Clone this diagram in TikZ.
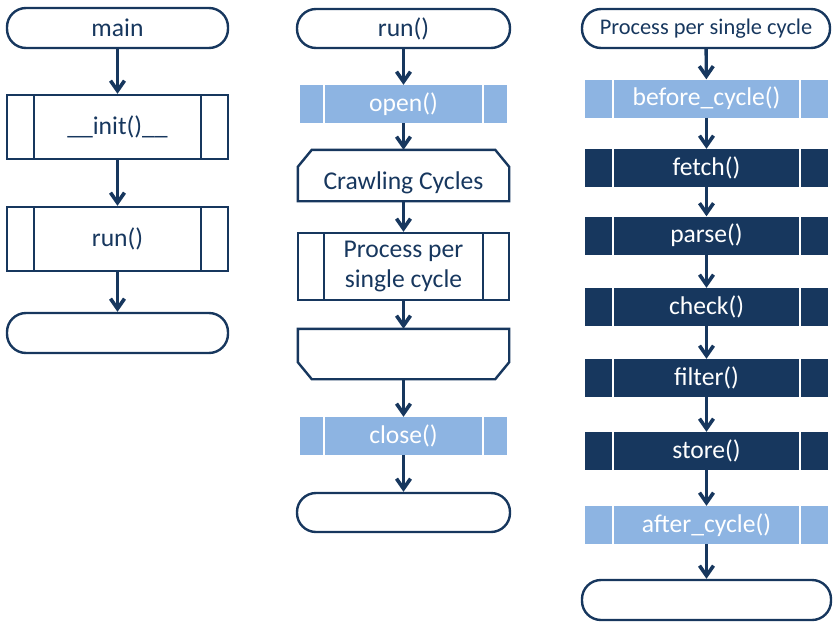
\documentclass[tikz,border=0pt]{standalone}
\usepackage{fontspec}
\setmainfont{Carlito}
\usepackage{tikz}
\usetikzlibrary{arrows.meta}
\usepackage{xcolor}
\definecolor{navy}{HTML}{17375E}
\definecolor{lightblue}{HTML}{8DB4E2}
\newcommand{\bigtxt}{\fontsize{25.6pt}{30pt}\selectfont}
\newcommand{\smalltxt}{\fontsize{22.4pt}{26pt}\selectfont}
\tikzset{
  term/.style    ={draw=navy, rounded corners=19pt, line width=2.4pt,
                   text=navy, minimum height=39pt, inner sep=0pt,
                   font=\bigtxt},
  bars/.style n args={2}{path picture={\draw[#2, line width=2.6pt]
                   ([xshift=#1]path picture bounding box.north west) --
                   ([xshift=#1]path picture bounding box.south west)
                   ([xshift=-#1]path picture bounding box.north east) --
                   ([xshift=-#1]path picture bounding box.south east);}},
  subproc/.style ={draw=navy, line width=2.4pt, text=navy, inner sep=0pt,
                   font=\bigtxt, align=center, bars={27pt}{navy}},
  lightcall/.style={fill=lightblue, text=white, inner sep=0pt,
                   font=\bigtxt, minimum height=38pt},
  darkcall/.style={fill=navy, text=white, inner sep=0pt,
                   font=\bigtxt, minimum width=243pt, minimum height=38pt,
                   bars={28pt}{white}},
  loopbox/.style ={text=navy, inner sep=0pt, font=\bigtxt,
                   minimum width=211pt, minimum height=51pt},
  outline/.style ={navy, line width=2.4pt, line join=miter},
  flow/.style    ={-{Straight Barb[length=10pt,width=14pt,line width=3.6pt]},
                   line width=3.4pt, navy},
}

\begin{document}
\begin{tikzpicture}[x=1pt,y=-1pt]
  \useasboundingbox (0,0) rectangle (838,632);
  % main
  \node[term, minimum width=221pt, minimum height=40pt] (main) at (117.5,28) {main};
  \node[subproc, minimum width=221pt, minimum height=64pt] (init) at (117.5,127) {\_\_init()\_\_};
  \node[subproc, minimum width=221pt, minimum height=64pt] (runA) at (117.5,239) {run()};
  \node[term, minimum width=221pt, minimum height=40pt] (endA) at (117.5,333) {};
  \draw[flow] (main) -- (init);
  \draw[flow] (init) -- (runA);
  \draw[flow] (runA) -- (endA);
  % run()
  \node[term, minimum width=213pt] (runB) at (403.5,28.5) {run()};
  \node[lightcall, minimum width=207pt, bars={24pt}{white}] (open) at (403.5,104) {open()};
  \node[loopbox, text height=33pt, text depth=5pt] (crawl) at (403.5,175.5) {Crawling Cycles};
  \draw[outline] (crawl.south west) -- ([yshift=-17pt]crawl.north west)
    -- ([xshift=14pt]crawl.north west) -- ([xshift=-14pt]crawl.north east)
    -- ([yshift=-17pt]crawl.north east) -- (crawl.south east) -- cycle;
  \node[subproc, minimum width=211pt, minimum height=67pt, bars={26pt}{navy}] (proc) at (403.5,266.5) {Process per\\single cycle};
  \node[loopbox, minimum height=50pt] (loopend) at (403.5,354) {};
  \draw[outline] (loopend.north west) -- ([yshift=17pt]loopend.south west)
    -- ([xshift=14pt]loopend.south west) -- ([xshift=-14pt]loopend.south east)
    -- ([yshift=17pt]loopend.south east) -- (loopend.north east) -- cycle;
  \node[lightcall, minimum width=207pt, bars={24pt}{white}] (close) at (403.5,436) {close()};
  \node[term, minimum width=213pt] (endB) at (403.5,512.5) {};
  \draw[flow] (runB) -- (open);
  \draw[flow] (open) -- (crawl);
  \draw[flow] (crawl) -- (proc);
  \draw[flow] (proc) -- (loopend);
  \draw[flow] (loopend) -- (close);
  \draw[flow] (close) -- (endB);
  % process per single cycle
  \node[term, minimum width=248pt, font=\smalltxt] (cycle) at (706,28.5) {Process per single cycle};
  \node[lightcall, minimum width=243pt, bars={28pt}{white}] (before) at (706.5,98.5) {before\_cycle()};
  \node[darkcall] (fetch) at (706.5,168) {fetch()};
  \node[darkcall] (parse) at (706.5,235.5) {parse()};
  \node[darkcall] (check) at (706.5,307) {check()};
  \node[darkcall] (filter) at (706.5,378) {filter()};
  \node[darkcall] (store) at (706.5,451) {store()};
  \node[lightcall, minimum width=243pt, bars={28pt}{white}] (after) at (706.5,525) {after\_cycle()};
  \node[term, minimum width=249pt, minimum height=40pt] (endC) at (706.5,600) {};
  \draw[flow] (cycle) -- (before);
  \draw[flow] (before) -- (fetch);
  \draw[flow] (fetch) -- (parse);
  \draw[flow] (parse) -- (check);
  \draw[flow] (check) -- (filter);
  \draw[flow] (filter) -- (store);
  \draw[flow] (store) -- (after);
  \draw[flow] (after) -- (endC);
\end{tikzpicture}
\end{document}
